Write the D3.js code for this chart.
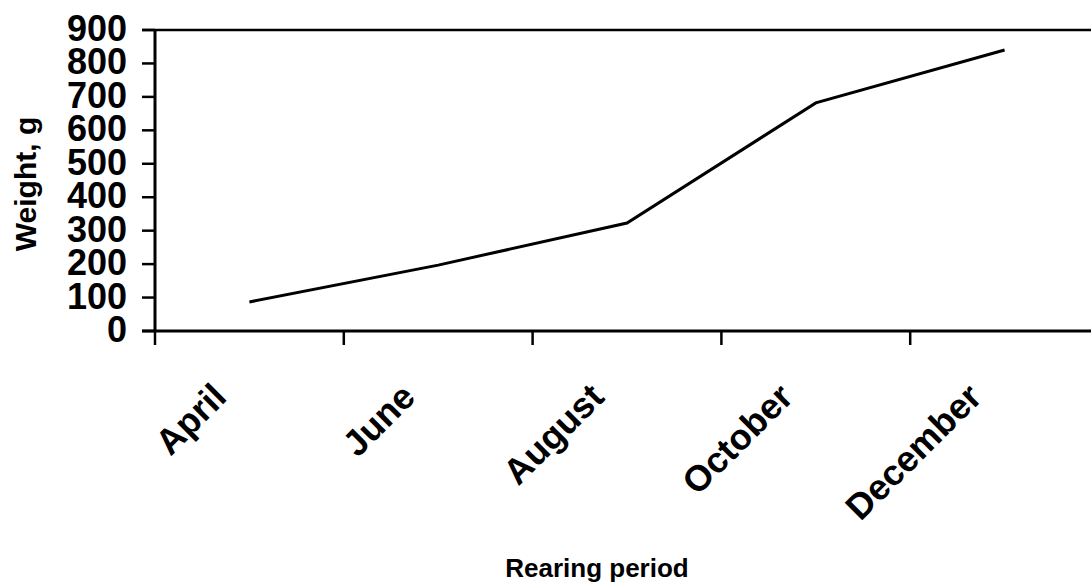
<!DOCTYPE html>
<html>
<head>
<meta charset="utf-8">
<script src="https://cdn.jsdelivr.net/npm/d3@7"></script>
<style>
  html, body { margin: 0; padding: 0; background: #fff; }
  svg { display: block; }
  text { font-family: "Liberation Sans", Arial, Helvetica, sans-serif; font-weight: bold; fill: #000; }
</style>
</head>
<body>
<svg id="chart" width="1091" height="586"></svg>
<script>
const categories = ["April", "June", "August", "October", "December"];
const weights = [87, 197, 323, 682, 840];
const yTicks = [0, 100, 200, 300, 400, 500, 600, 700, 800, 900];
const yTitle = "Weight, g";
const xTitle = "Rearing period";

const svg = d3.select("#chart");
const plotLeft = 155, plotRight = 1099, plotTop = 30, plotBottom = 331;

const x = d3.scaleBand().domain(categories).range([plotLeft, plotRight]).padding(0);
const y = d3.scaleLinear().domain([0, 900]).range([plotBottom, plotTop]);

// top frame line
svg.append("line")
  .attr("x1", plotLeft - 13).attr("x2", 1091)
  .attr("y1", y(900)).attr("y2", y(900))
  .attr("stroke", "#000").attr("stroke-width", 2.5);

// x axis baseline
svg.append("line")
  .attr("x1", plotLeft - 13).attr("x2", 1091)
  .attr("y1", y(0)).attr("y2", y(0))
  .attr("stroke", "#000").attr("stroke-width", 3);

// y axis line
svg.append("line")
  .attr("x1", plotLeft).attr("x2", plotLeft)
  .attr("y1", y(900)).attr("y2", y(0) + 1)
  .attr("stroke", "#000").attr("stroke-width", 3);

// y ticks
svg.selectAll(".ytick").data(yTicks).enter().append("line")
  .attr("x1", plotLeft - 13).attr("x2", plotLeft)
  .attr("y1", d => y(d)).attr("y2", d => y(d))
  .attr("stroke", "#000").attr("stroke-width", 2.5);

svg.selectAll(".ylab").data(yTicks).enter().append("text")
  .attr("x", 127).attr("y", d => y(d) + 11)
  .attr("text-anchor", "end")
  .attr("font-size", 36)
  .text(d => d);

// x ticks at band boundaries
const xBounds = categories.map(c => x(c));
svg.selectAll(".xtick").data(xBounds).enter().append("line")
  .attr("x1", d => d).attr("x2", d => d)
  .attr("y1", y(0)).attr("y2", y(0) + 14)
  .attr("stroke", "#000").attr("stroke-width", 2.5);

// x labels
svg.selectAll(".xlab").data(categories).enter().append("text")
  .attr("text-anchor", "end")
  .attr("font-size", 36)
  .attr("transform", d => `translate(${x(d) + x.bandwidth() / 2 - 21},${399}) rotate(-45)`)
  .text(d => d);

// line
const line = d3.line()
  .x((d, i) => x(categories[i]) + x.bandwidth() / 2)
  .y(d => y(d));
svg.append("path")
  .datum(weights)
  .attr("d", line)
  .attr("fill", "none")
  .attr("stroke", "#000")
  .attr("stroke-width", 3);

// titles
svg.append("text")
  .attr("transform", `translate(36,184) rotate(-90)`)
  .attr("text-anchor", "middle")
  .attr("font-size", 30)
  .text(yTitle);

svg.append("text")
  .attr("x", 597).attr("y", 577)
  .attr("text-anchor", "middle")
  .attr("font-size", 26)
  .text(xTitle);
</script>
</body>
</html>
